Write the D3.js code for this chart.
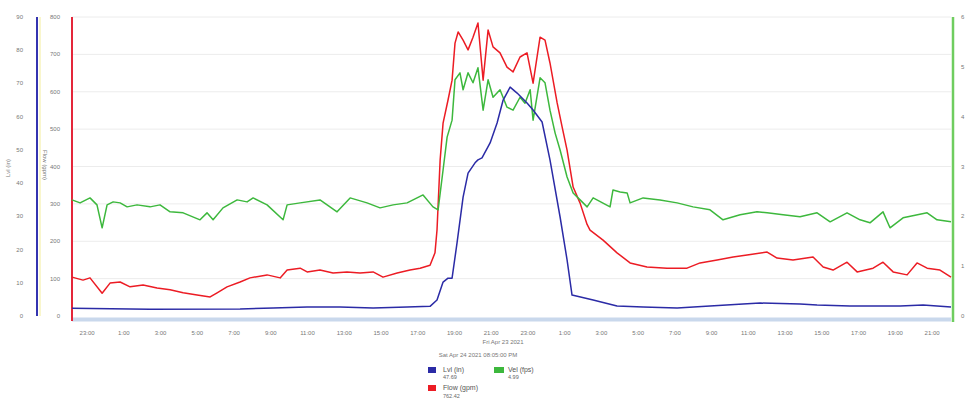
<!DOCTYPE html>
<html>
<head>
<meta charset="utf-8">
<script src="https://cdn.jsdelivr.net/npm/d3@7"></script>
<style>
  body { margin: 0; background: #fff; }
  svg { display: block; font-family: "Liberation Sans", Arial, sans-serif; }
  .tick-label { fill: #777; font-size: 6px; }
  .legend-label { fill: #555; font-size: 7px; }
  .legend-value { fill: #666; font-size: 5.5px; }
</style>
</head>
<body>
<svg id="chart" width="971" height="399"></svg>
<script>
// hours after Fri Apr 23 2021 22:00
const lvlHours = [0.18, 4.43, 9.33, 11.13, 12.98, 14.77, 16.57, 18.42, 19.67, 20.05, 20.38, 20.65, 20.87, 21.14, 21.47, 21.74, 22.12, 22.28, 22.5, 22.94, 23.32, 23.65, 24.03, 24.41, 24.95, 25.28, 25.77, 26.2, 26.75, 27.13, 27.4, 28.55, 29.85, 31.27, 33.12, 34.91, 36.71, 37.64, 39.81, 40.74, 42.53, 45.26, 46.51, 48.03];
const lvlValues = [2.3, 2.0, 2.1, 2.4, 2.7, 2.7, 2.4, 2.7, 2.9, 4.8, 10.2, 11.4, 11.4, 22.0, 35.8, 43.0, 46.1, 47.0, 47.6, 52.1, 58.1, 65.0, 68.9, 67.1, 64.1, 62.0, 58.4, 47.0, 29.8, 16.9, 6.3, 4.8, 3.0, 2.7, 2.4, 3.0, 3.6, 3.9, 3.6, 3.3, 3.0, 3.0, 3.3, 2.7];

const flowHours = [0.18, 0.78, 1.16, 1.82, 2.25, 2.8, 3.34, 4.05, 4.81, 5.52, 6.23, 6.99, 7.7, 8.08, 8.62, 9.33, 9.87, 10.8, 11.51, 11.89, 12.6, 12.98, 13.68, 14.39, 15.15, 15.86, 16.57, 17.11, 17.88, 18.58, 19.13, 19.67, 19.94, 20.05, 20.22, 20.38, 20.65, 20.87, 21.03, 21.2, 21.47, 21.74, 22.01, 22.28, 22.56, 22.83, 23.1, 23.48, 23.86, 24.19, 24.57, 24.95, 25.28, 25.66, 25.93, 26.2, 26.59, 26.86, 27.13, 27.46, 27.84, 28.22, 28.38, 29.09, 29.85, 30.56, 31.48, 32.57, 33.66, 34.37, 35.3, 36.17, 36.93, 38.02, 38.56, 39.43, 40.52, 41.07, 41.61, 42.37, 42.92, 43.79, 44.33, 44.88, 45.64, 46.18, 46.73, 47.43, 48.03];
const flowValues = [104, 96, 102, 61, 88, 91, 78, 83, 75, 70, 62, 56, 51, 62, 78, 91, 102, 110, 102, 123, 128, 118, 123, 115, 118, 115, 118, 104, 115, 123, 128, 136, 169, 230, 417, 516, 578, 631, 730, 760, 738, 712, 746, 784, 631, 765, 720, 704, 666, 653, 693, 704, 623, 746, 738, 677, 570, 506, 444, 345, 302, 245, 230, 203, 169, 142, 131, 128, 128, 142, 150, 158, 163, 171, 155, 150, 158, 131, 123, 144, 118, 128, 144, 118, 110, 142, 128, 123, 104];

const velHours = [0.18, 0.62, 1.16, 1.54, 1.82, 2.09, 2.42, 2.8, 3.18, 3.72, 4.43, 4.97, 5.52, 6.23, 7.15, 7.53, 7.86, 8.4, 9.17, 9.71, 10.04, 10.8, 11.67, 11.89, 12.6, 13.68, 14.61, 15.32, 16.24, 16.95, 17.66, 18.42, 19.29, 19.83, 20.11, 20.38, 20.6, 20.87, 21.03, 21.3, 21.47, 21.74, 22.01, 22.28, 22.56, 22.83, 23.1, 23.48, 23.86, 24.19, 24.57, 24.84, 25.12, 25.28, 25.66, 25.93, 26.2, 26.48, 26.75, 27.13, 27.46, 27.84, 28.22, 28.55, 29.47, 29.63, 30.02, 30.4, 30.56, 31.27, 32.19, 33.12, 33.99, 34.91, 35.62, 36.55, 37.47, 38.02, 38.89, 39.81, 40.74, 41.45, 42.37, 43.08, 43.62, 44.33, 44.71, 45.42, 46.73, 47.27, 48.03];
const velValues = [2.33, 2.27, 2.37, 2.23, 1.77, 2.23, 2.29, 2.27, 2.19, 2.23, 2.19, 2.23, 2.09, 2.07, 1.93, 2.07, 1.93, 2.17, 2.33, 2.29, 2.37, 2.23, 1.93, 2.23, 2.27, 2.33, 2.09, 2.37, 2.27, 2.17, 2.23, 2.27, 2.43, 2.19, 2.13, 2.93, 3.59, 3.93, 4.74, 4.88, 4.54, 4.88, 4.68, 4.98, 4.13, 4.74, 4.39, 4.54, 4.19, 4.13, 4.39, 4.27, 4.54, 3.93, 4.78, 4.68, 4.13, 3.67, 3.33, 2.79, 2.47, 2.33, 2.19, 2.37, 2.19, 2.53, 2.49, 2.47, 2.27, 2.37, 2.33, 2.27, 2.19, 2.13, 1.93, 2.03, 2.09, 2.07, 2.03, 1.99, 2.07, 1.89, 2.07, 1.93, 1.87, 2.09, 1.77, 1.97, 2.07, 1.93, 1.89];

const lvlTicks = [0, 10, 20, 30, 40, 50, 60, 70, 80, 90];
const flowTicks = [0, 100, 200, 300, 400, 500, 600, 700, 800];
const velTicks = [0, 1, 2, 3, 4, 5, 6];

const legendItems = [
  { name: 'Lvl (in)', value: '47.69', color: '#2b2ba6' },
  { name: 'Vel (fps)', value: '4.99', color: '#3db83d' },
  { name: 'Flow (gpm)', value: '762.42', color: '#ec1c24' }
];

const base = new Date(2021, 3, 23, 22, 0);
const toDate = h => new Date(base.getTime() + h * 3600 * 1000);

const svg = d3.select('#chart');
const plotLeft = 72, plotRight = 951, plotTop = 17, plotBottom = 316;

const x = d3.scaleTime()
  .domain([toDate(0.18), toDate(48.03)])
  .range([plotLeft, plotRight]);
const yLvl = d3.scaleLinear().domain([0, 90]).range([plotBottom, plotTop]);
const yFlow = d3.scaleLinear().domain([0, 800]).range([plotBottom, plotTop]);
const yVel = d3.scaleLinear().domain([0, 6]).range([plotBottom, plotTop]);

// grid lines
svg.append('g')
  .selectAll('line')
  .data(flowTicks.slice(1))
  .join('line')
  .attr('x1', plotLeft).attr('x2', plotRight)
  .attr('y1', d => yFlow(d)).attr('y2', d => yFlow(d))
  .attr('stroke', '#ececec');

// navigator band under the plot
svg.append('rect')
  .attr('x', plotLeft).attr('y', 317.5)
  .attr('width', plotRight - plotLeft).attr('height', 4)
  .attr('fill', '#c9d8ec');

// axis bars
svg.append('line').attr('x1', 37).attr('x2', 37).attr('y1', plotTop).attr('y2', plotBottom)
  .attr('stroke', '#3434b0').attr('stroke-width', 2);
svg.append('line').attr('x1', 40).attr('x2', 40).attr('y1', plotTop).attr('y2', plotBottom)
  .attr('stroke', '#f3ee9a').attr('stroke-width', 1);
svg.append('line').attr('x1', plotLeft).attr('x2', plotLeft).attr('y1', plotTop).attr('y2', 321)
  .attr('stroke', '#e4263a').attr('stroke-width', 2);
svg.append('line').attr('x1', 953).attr('x2', 953).attr('y1', plotTop).attr('y2', 322)
  .attr('stroke', '#6fcd5f').attr('stroke-width', 2.5);

// tick labels
svg.append('g').selectAll('text')
  .data(lvlTicks).join('text')
  .attr('class', 'tick-label')
  .attr('x', 23).attr('y', d => yLvl(d) + 2)
  .attr('text-anchor', 'end')
  .text(d => d);

svg.append('g').selectAll('text')
  .data(flowTicks).join('text')
  .attr('class', 'tick-label')
  .attr('x', 60).attr('y', d => yFlow(d) + 2)
  .attr('text-anchor', 'end')
  .text(d => d);

svg.append('g').selectAll('text')
  .data(velTicks).join('text')
  .attr('class', 'tick-label')
  .attr('x', 961).attr('y', d => yVel(d) + 2)
  .text(d => d);

svg.append('text').attr('class', 'tick-label')
  .attr('transform', 'translate(10,168) rotate(-90)')
  .attr('text-anchor', 'middle').text('Lvl (in)');
svg.append('text').attr('class', 'tick-label')
  .attr('transform', 'translate(43,165) rotate(90)')
  .attr('text-anchor', 'middle').text('Flow (gpm)');

const xTicks = d3.timeHour.range(toDate(0.5), toDate(48)).filter(d => d.getHours() % 2 === 1);
svg.append('g').selectAll('text')
  .data(xTicks).join('text')
  .attr('class', 'tick-label')
  .attr('x', d => x(d)).attr('y', 335)
  .attr('text-anchor', 'middle')
  .text(d3.timeFormat('%-H:%M'));

svg.append('text').attr('class', 'tick-label')
  .attr('x', 503).attr('y', 344).attr('text-anchor', 'middle')
  .attr('font-size', 5.5)
  .text('Fri Apr 23 2021');

// series
const series = [
  { hours: flowHours, values: flowValues, y: yFlow, color: '#ec1c24' },
  { hours: velHours, values: velValues, y: yVel, color: '#3db83d' },
  { hours: lvlHours, values: lvlValues, y: yLvl, color: '#2b2ba6' }
];

series.forEach(s => {
  const line = d3.line()
    .x((d, i) => x(toDate(s.hours[i])))
    .y(d => s.y(d));
  svg.append('path')
    .datum(s.values)
    .attr('d', line)
    .attr('fill', 'none')
    .attr('stroke', s.color)
    .attr('stroke-width', 1.5)
    .attr('stroke-linejoin', 'round');
});

// tooltip legend
svg.append('text').attr('class', 'tick-label')
  .attr('x', 478).attr('y', 357).attr('text-anchor', 'middle')
  .attr('font-size', 5.5)
  .text('Sat Apr 24 2021 08:05:00 PM');

const legendPos = [
  { x: 428, swatch: 367, name: 372, value: 378.5 },
  { x: 494, swatch: 367, name: 372, value: 378.5 },
  { x: 428, swatch: 385, name: 389.5, value: 397.5 }
];
const lg = svg.append('g').selectAll('g')
  .data(legendItems).join('g')
  .attr('transform', (d, i) => `translate(${legendPos[i].x},0)`);
lg.append('rect')
  .attr('y', (d, i) => legendPos[i].swatch)
  .attr('width', (d, i) => i === 1 ? 10 : 8).attr('height', 6)
  .attr('fill', d => d.color);
lg.append('text').attr('class', 'legend-label')
  .attr('x', (d, i) => i === 1 ? 14 : 15)
  .attr('y', (d, i) => legendPos[i].name).text(d => d.name);
lg.append('text').attr('class', 'legend-value')
  .attr('x', (d, i) => i === 1 ? 14 : 15)
  .attr('y', (d, i) => legendPos[i].value).text(d => d.value);
</script>
</body>
</html>
